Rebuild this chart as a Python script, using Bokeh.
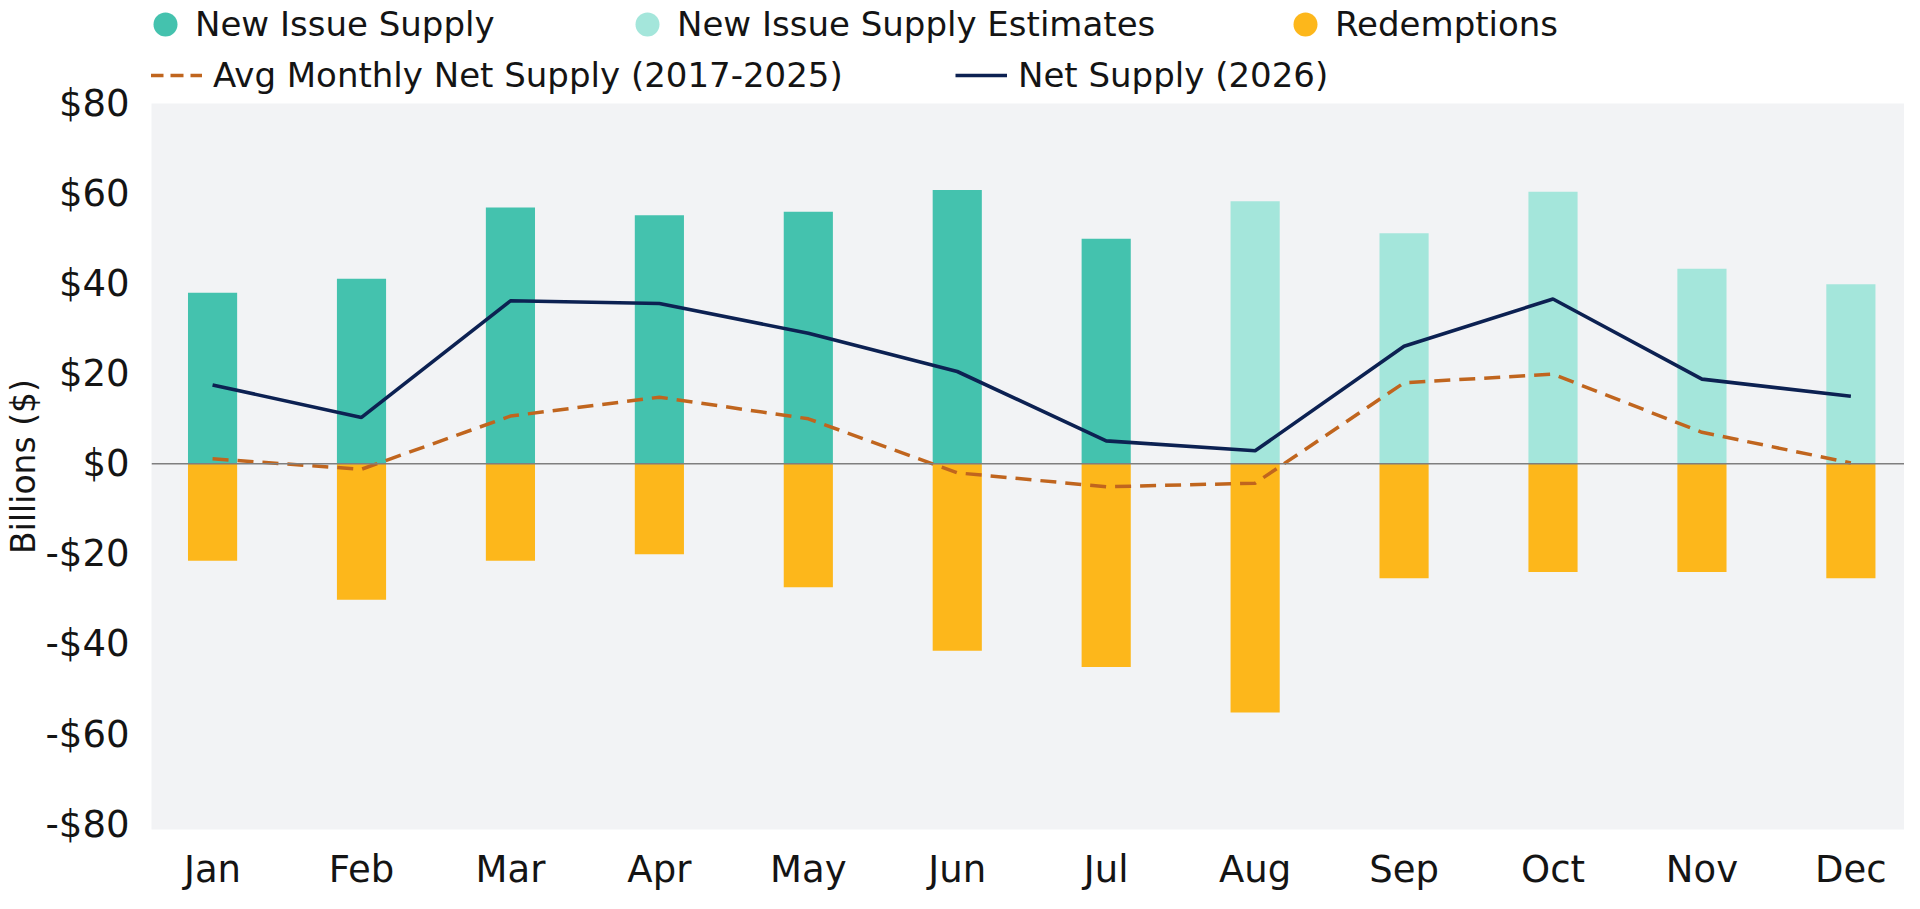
from bokeh.plotting import figure
from bokeh.layouts import column
from bokeh.models import ColumnDataSource, Range1d, FixedTicker, Span, Legend, LegendItem
from bokeh.embed import file_html
from bokeh.resources import INLINE

# ---------------- data ----------------
months = ["Jan", "Feb", "Mar", "Apr", "May", "Jun", "Jul", "Aug", "Sep", "Oct", "Nov", "Dec"]
new_issue_supply = [38.0, 41.1, 56.9, 55.2, 56.0, 60.8, 50.0, 58.3, 51.2, 60.4, 43.3, 39.9]
is_estimate = [False, False, False, False, False, False, False, True, True, True, True, True]
redemptions = [-21.5, -30.2, -21.5, -20.1, -27.4, -41.5, -45.1, -55.2, -25.4, -24.0, -24.0, -25.4]
net_supply_2026 = [17.5, 10.3, 36.2, 35.6, 29.0, 20.5, 5.1, 2.9, 26.1, 36.6, 18.8, 15.0]
avg_net_supply_2017_2025 = [1.1, -1.2, 10.6, 14.8, 10.0, -2.0, -5.1, -4.3, 18.0, 19.9, 7.0, 0.2]
y_ticks = [-80, -60, -40, -20, 0, 20, 40, 60, 80]
y_tick_labels = ["-$80", "-$60", "-$40", "-$20", "$0", "$20", "$40", "$60", "$80"]

# ---------------- styles ----------------
FONT = "DejaVu Sans"
TEXT = "#141414"
TEAL = "#44C2AE"
TEAL_LIGHT = "#A4E6DB"
YELLOW = "#FDB71B"
NAVY = "#0C2152"
BURNT = "#C0651E"
BG = "#F2F3F5"
NAN = float("nan")

x = list(range(len(months)))
actual_src = ColumnDataSource(dict(
    x=[i for i in x if not is_estimate[i]],
    top=[v for v, e in zip(new_issue_supply, is_estimate) if not e]))
est_src = ColumnDataSource(dict(
    x=[i for i in x if is_estimate[i]],
    top=[v for v, e in zip(new_issue_supply, is_estimate) if e]))
red_src = ColumnDataSource(dict(x=x, top=redemptions))
net_src = ColumnDataSource(dict(x=x, y=net_supply_2026))
avg_src = ColumnDataSource(dict(x=x, y=avg_net_supply_2017_2025))

# ---------------- main chart ----------------
p = figure(width=1904, height=813, output_backend="svg", toolbar_location=None,
           x_range=Range1d(-0.41, 11.36), y_range=Range1d(-81.2, 80.01),
           min_border_left=138, min_border_right=0, min_border_top=23, min_border_bottom=60,
           background_fill_color=BG, border_fill_color="white", border_fill_alpha=0,
           outline_line_color=None, margin=(-20, 0, 0, 0))
p.grid.visible = False

bar_w = 0.33
p.vbar(x="x", top="top", bottom=0, width=bar_w, source=actual_src,
       fill_color=TEAL, line_color=None)
p.vbar(x="x", top="top", bottom=0, width=bar_w, source=est_src,
       fill_color=TEAL_LIGHT, line_color=None)
p.vbar(x="x", top="top", bottom=0, width=bar_w, source=red_src,
       fill_color=YELLOW, line_color=None)

p.add_layout(Span(location=0, dimension="width", line_color="#7F7F7F", line_width=1.5))

p.line(x="x", y="y", source=avg_src, line_color=BURNT, line_width=3.5, line_dash="16 9")
p.line(x="x", y="y", source=net_src, line_color=NAVY, line_width=3.6)

p.xaxis.ticker = FixedTicker(ticks=x)
p.xaxis.major_label_overrides = {i: m for i, m in zip(x, months)}
p.yaxis.ticker = FixedTicker(ticks=y_ticks)
p.yaxis.major_label_overrides = dict(zip(y_ticks, y_tick_labels))
for ax in (p.xaxis[0], p.yaxis[0]):
    ax.axis_line_color = None
    ax.major_tick_line_color = None
    ax.minor_tick_line_color = None
    ax.major_label_text_font = FONT
    ax.major_label_text_font_size = "37px"
    ax.major_label_text_color = TEXT
p.xaxis.major_label_standoff = 12
p.yaxis.major_label_standoff = 16
p.yaxis.axis_label = "Billions ($)"
p.yaxis.axis_label_text_font = FONT
p.yaxis.axis_label_text_font_size = "33px"
p.yaxis.axis_label_text_font_style = "normal"
p.yaxis.axis_label_text_color = TEXT
p.yaxis.axis_label_standoff = 0

# ---------------- legend strip ----------------
lg = figure(width=1904, height=100, output_backend="svg", toolbar_location=None,
            x_range=Range1d(0, 1), y_range=Range1d(0, 1),
            x_axis_type=None, y_axis_type=None,
            min_border_left=0, min_border_right=0, min_border_top=0, min_border_bottom=0,
            background_fill_color="white", border_fill_color="white", outline_line_color=None)
lg.grid.visible = False


def nan_src():
    return ColumnDataSource(dict(x=[NAN], y=[NAN]))


k_act = lg.scatter(x="x", y="y", source=nan_src(), marker="circle", size=24,
                   fill_color=TEAL, line_color=None)
k_est = lg.scatter(x="x", y="y", source=nan_src(), marker="circle", size=24,
                   fill_color=TEAL_LIGHT, line_color=None)
k_red = lg.scatter(x="x", y="y", source=nan_src(), marker="circle", size=24,
                   fill_color=YELLOW, line_color=None)
k_avg = lg.line(x="x", y="y", source=nan_src(), line_color=BURNT, line_width=3.5,
                line_dash="13 7")
k_net = lg.line(x="x", y="y", source=nan_src(), line_color=NAVY, line_width=3.6)


def add_item(label, renderer, loc, gw, gh, standoff):
    leg = Legend(items=[LegendItem(label=label, renderers=[renderer])],
                 location=loc, orientation="horizontal",
                 glyph_width=gw, glyph_height=gh, label_height=gh,
                 label_standoff=standoff, padding=0, margin=0, spacing=0,
                 border_line_alpha=0, background_fill_alpha=0,
                 label_text_font=FONT, label_text_font_size="34px",
                 label_text_color=TEXT)
    lg.add_layout(leg, "center")


add_item("New Issue Supply", k_act, (-16, 46), 60, 60, 0)
add_item("New Issue Supply Estimates", k_est, (466, 46), 60, 60, 0)
add_item("Redemptions", k_red, (1124, 46), 60, 60, 0)
add_item("Avg Monthly Net Supply (2017-2025)", k_avg, (-1, 5), 52, 30, 11)
add_item("Net Supply (2026)", k_net, (804, 5), 52, 30, 11)

layout = column(lg, p, spacing=0)
open("out.html", "w").write(file_html(layout, INLINE))
